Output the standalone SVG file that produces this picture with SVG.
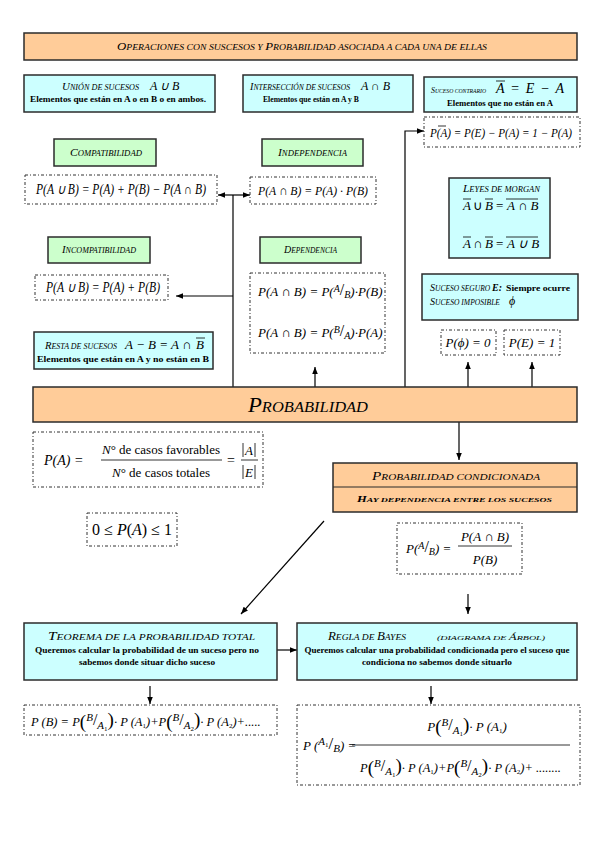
<svg xmlns="http://www.w3.org/2000/svg" width="599" height="848" viewBox="0 0 599 848">
<defs>
<marker id="ah" viewBox="0 0 10 10" refX="10" refY="5" markerWidth="6" markerHeight="6" orient="auto-start-reverse"><path d="M0,1 L10,5 L0,9 z" fill="#000"/></marker>
<style>
.peach{fill:#FFCC99;stroke:#2b2b2b;stroke-width:1.5}
.cyan{fill:#CCFFFF;stroke:#2b2b2b;stroke-width:1.5}
.green{fill:#CCFFCC;stroke:#2b2b2b;stroke-width:1.5}
.dash{fill:#fff;stroke:#333;stroke-width:1;stroke-dasharray:3 2 1 2}
.c{stroke:#000;stroke-width:1.2;fill:none}
.ol{stroke:#000;stroke-width:0.8}
text{font-family:"Liberation Serif",serif;fill:#000}
.cp{font-style:italic}
.el{font-weight:bold}
.m{font-style:italic}
.n{font-style:normal}
</style>
</defs>
<rect width="599" height="848" fill="#fff"/>

<g id="connectors">
<line class="c" x1="233" y1="387" x2="233" y2="195"/>
<line class="c" x1="233" y1="195" x2="218" y2="195" marker-end="url(#ah)"/>
<line class="c" x1="233" y1="195" x2="250" y2="195" marker-end="url(#ah)"/>
<line class="c" x1="233" y1="296" x2="176" y2="296" marker-end="url(#ah)"/>
<line class="c" x1="315" y1="387" x2="315" y2="367" marker-end="url(#ah)"/>
<polyline class="c" points="405,387 405,131 424,131" marker-end="url(#ah)"/>
<line class="c" x1="468" y1="387" x2="468" y2="362" marker-end="url(#ah)"/>
<line class="c" x1="532" y1="387" x2="532" y2="362" marker-end="url(#ah)"/>
<line class="c" x1="459" y1="422" x2="459" y2="460" marker-end="url(#ah)"/>
<line class="c" x1="324" y1="521" x2="241" y2="614" marker-end="url(#ah)"/>
<line class="c" x1="468" y1="594" x2="468" y2="614" marker-end="url(#ah)"/>
<line class="c" x1="277" y1="650" x2="297" y2="650" marker-end="url(#ah)"/>
<line class="c" x1="150" y1="686" x2="150" y2="704" marker-end="url(#ah)"/>
<line class="c" x1="431" y1="686" x2="431" y2="704" marker-end="url(#ah)"/>
</g>

<g id="banner">
<rect class="peach" x="24" y="33" width="553" height="27"/>
<text class="cp" x="117" y="50" font-size="8" textLength="370" lengthAdjust="spacingAndGlyphs"><tspan font-size="10.5">O</tspan>PERACIONES CON SUSCESOS Y <tspan font-size="10.5">P</tspan>ROBABILIDAD ASOCIADA A CADA UNA DE ELLAS</text>
</g>

<g id="union">
<rect class="cyan" x="24" y="75" width="191" height="37"/>
<text class="cp" x="62" y="90" font-size="7.5" textLength="77" lengthAdjust="spacingAndGlyphs"><tspan font-size="10">U</tspan>NIÓN DE SUCESOS</text>
<text x="150" y="90" font-style="italic" font-size="12">A ∪ B</text>
<text class="el" x="118" y="102" font-size="8" text-anchor="middle" textLength="176" lengthAdjust="spacingAndGlyphs">Elementos que están en A o en B o en ambos.</text>
</g>

<g id="interseccion">
<rect class="cyan" x="243" y="75" width="170" height="37"/>
<text class="cp" x="250" y="90" font-size="7.5" textLength="100" lengthAdjust="spacingAndGlyphs"><tspan font-size="10">I</tspan>NTERSECCIÓN DE SUCESOS</text>
<text x="361" y="90" font-style="italic" font-size="12">A ∩ B</text>
<text class="el" x="311" y="102" font-size="8" text-anchor="middle" textLength="96" lengthAdjust="spacingAndGlyphs">Elementos que están en A y B</text>
</g>

<g id="contrario">
<rect class="cyan" x="424" y="77" width="153" height="35"/>
<text class="cp" x="431" y="93" font-size="6.5" textLength="55" lengthAdjust="spacingAndGlyphs"><tspan font-size="9">S</tspan>UCESO CONTRARIO</text>
<text x="496" y="93" font-style="italic" font-size="14" textLength="68" lengthAdjust="spacing">A = E − A</text>
<line class="ol" x1="496" y1="81" x2="505" y2="81"/>
<text class="el" x="500" y="106" font-size="8" text-anchor="middle" textLength="106" lengthAdjust="spacingAndGlyphs">Elementos que no están en A</text>
</g>

<g id="p-contrario">
<rect class="dash" x="424" y="117" width="156" height="30"/>
<text class="m" x="430" y="137" font-size="12" textLength="142" lengthAdjust="spacingAndGlyphs">P(A) = P(E) − P(A) = 1 − P(A)</text>
<line class="ol" x1="438" y1="126" x2="446" y2="126"/>
</g>

<g id="compatibilidad">
<rect class="green" x="54" y="139" width="102" height="27"/>
<text class="cp" x="70" y="156" font-size="7.5" textLength="72" lengthAdjust="spacingAndGlyphs"><tspan font-size="10">C</tspan>OMPATIBILIDAD</text>
</g>

<g id="independencia">
<rect class="green" x="262" y="139" width="101" height="27"/>
<text class="cp" x="278" y="156" font-size="7.5" textLength="69" lengthAdjust="spacingAndGlyphs"><tspan font-size="10">I</tspan>NDEPENDENCIA</text>
</g>

<g id="f-compat">
<rect class="dash" x="25" y="175" width="192" height="29"/>
<text class="m" x="36" y="194" font-size="14" textLength="170" lengthAdjust="spacingAndGlyphs">P(A ∪ B) = P(A) + P(B) − P(A ∩ B)</text>
</g>

<g id="f-indep">
<rect class="dash" x="250" y="177" width="126" height="27"/>
<text class="m" x="258" y="195" font-size="13" textLength="110" lengthAdjust="spacingAndGlyphs">P(A ∩ B) = P(A) · P(B)</text>
</g>

<g id="incompatibilidad">
<rect class="green" x="48" y="237" width="102" height="26"/>
<text class="cp" x="62" y="253" font-size="7.5" textLength="74" lengthAdjust="spacingAndGlyphs"><tspan font-size="10">I</tspan>NCOMPATIBILIDAD</text>
</g>

<g id="dependencia">
<rect class="green" x="260" y="237" width="101" height="26"/>
<text class="cp" x="284" y="253" font-size="7.5" textLength="53" lengthAdjust="spacingAndGlyphs"><tspan font-size="10">D</tspan>EPENDENCIA</text>
</g>

<g id="f-incompat">
<rect class="dash" x="35" y="275" width="133" height="25"/>
<text class="m" x="46" y="292" font-size="14" textLength="114" lengthAdjust="spacingAndGlyphs">P(A ∪ B) = P(A) + P(B)</text>
</g>

<g id="f-dep">
<rect class="dash" x="250" y="273" width="135" height="80"/>
<text class="m" x="258" y="296" font-size="13">P(A ∩ B) = P(<tspan font-size="10" dy="-4">A</tspan><tspan class="n" font-size="16" dy="3">/</tspan><tspan font-size="10" dy="3">B</tspan><tspan dy="-2">)·P(B)</tspan></text>
<text class="m" x="258" y="337" font-size="13">P(A ∩ B) = P(<tspan font-size="10" dy="-4">B</tspan><tspan class="n" font-size="16" dy="3">/</tspan><tspan font-size="10" dy="3">A</tspan><tspan dy="-2">)·P(A)</tspan></text>
</g>

<g id="resta">
<rect class="cyan" x="34" y="332" width="179" height="37"/>
<text class="cp" x="45" y="349" font-size="7.5" textLength="72" lengthAdjust="spacingAndGlyphs"><tspan font-size="10">R</tspan>ESTA DE SUCESOS</text>
<text x="125" y="349" font-style="italic" font-size="13">A − B = A ∩</text>
<text x="196" y="349" font-style="italic" font-size="13">B</text>
<line class="ol" x1="196" y1="338" x2="205" y2="338"/>
<text class="el" x="123" y="362" font-size="8" text-anchor="middle" textLength="172" lengthAdjust="spacingAndGlyphs">Elementos que están en A y no están en B</text>
</g>

<g id="morgan">
<rect class="cyan" x="449" y="178" width="101" height="80"/>
<text class="cp" x="463" y="192" font-size="7.5" textLength="77" lengthAdjust="spacingAndGlyphs"><tspan font-size="10">L</tspan>EYES DE MORGAN</text>
<text x="463" y="210" font-style="italic" font-size="13">A</text>
<text x="473" y="210" font-size="13">∪</text>
<text x="485" y="210" font-style="italic" font-size="13">B</text>
<text x="496" y="210" font-size="13">=</text>
<text x="507" y="210" font-style="italic" font-size="13">A ∩ B</text>
<line class="ol" x1="463" y1="199" x2="471" y2="199"/>
<line class="ol" x1="485" y1="199" x2="493" y2="199"/>
<line class="ol" x1="506" y1="199" x2="538" y2="199"/>
<text x="463" y="248" font-style="italic" font-size="13">A</text>
<text x="473" y="248" font-size="13">∩</text>
<text x="485" y="248" font-style="italic" font-size="13">B</text>
<text x="496" y="248" font-size="13">=</text>
<text x="507" y="248" font-style="italic" font-size="13">A ∪ B</text>
<line class="ol" x1="463" y1="237" x2="471" y2="237"/>
<line class="ol" x1="485" y1="237" x2="493" y2="237"/>
<line class="ol" x1="506" y1="237" x2="538" y2="237"/>
</g>

<g id="seguro">
<rect class="cyan" x="422" y="274" width="156" height="46"/>
<text class="cp" x="430" y="291" font-size="7.5" textLength="72" lengthAdjust="spacingAndGlyphs"><tspan font-size="10">S</tspan>UCESO SEGURO <tspan font-size="10" font-weight="bold">E:</tspan></text>
<text x="506" y="291" font-weight="bold" font-size="8" textLength="64" lengthAdjust="spacingAndGlyphs">Siempre ocurre</text>
<text class="cp" x="430" y="305" font-size="7.5" textLength="70" lengthAdjust="spacingAndGlyphs"><tspan font-size="10">S</tspan>UCESO IMPOSIBLE</text>
<text x="509" y="305" font-style="italic" font-size="12">ϕ</text>
</g>

<g id="p-vacio">
<rect class="dash" x="441" y="330" width="55" height="25"/>
<text class="m" x="468" y="347" font-size="13" text-anchor="middle">P(ϕ) = 0</text>
</g>

<g id="p-seguro">
<rect class="dash" x="504" y="330" width="56" height="25"/>
<text class="m" x="532" y="347" font-size="13" text-anchor="middle">P(E) = 1</text>
</g>

<g id="probabilidad">
<rect class="peach" x="33" y="387" width="544" height="35"/>
<text class="cp" x="248" y="412" font-size="14.5" textLength="120" lengthAdjust="spacingAndGlyphs"><tspan font-size="20">P</tspan>ROBABILIDAD</text>
</g>

<g id="laplace">
<rect class="dash" x="33" y="432" width="230" height="55"/>
<text class="m" x="44" y="465" font-size="14">P(A) =</text>
<text x="161" y="454" font-size="13" text-anchor="middle" textLength="118" lengthAdjust="spacing"><tspan font-style="italic">N</tspan>° de casos favorables</text>
<line class="ol" x1="101" y1="460" x2="222" y2="460"/>
<text x="161" y="477" font-size="13" text-anchor="middle" textLength="98" lengthAdjust="spacing"><tspan font-style="italic">N</tspan>° de casos totales</text>
<text x="227" y="465" font-size="14">=</text>
<line class="ol" x1="241" y1="460" x2="258" y2="460"/>
<text class="m" x="245" y="455" font-size="13">A</text>
<line class="ol" x1="243" y1="443" x2="243" y2="457"/>
<line class="ol" x1="255" y1="443" x2="255" y2="457"/>
<text class="m" x="245" y="477" font-size="13">E</text>
<line class="ol" x1="243" y1="465" x2="243" y2="479"/>
<line class="ol" x1="255" y1="465" x2="255" y2="479"/>
</g>

<g id="condicionada">
<rect class="peach" x="333" y="463" width="244" height="49"/>
<line stroke="#2b2b2b" stroke-width="1.2" x1="333" y1="487" x2="577" y2="487"/>
<text class="cp" x="372" y="480" font-size="8.5" textLength="168" lengthAdjust="spacingAndGlyphs"><tspan font-size="11.5">P</tspan>ROBABILIDAD CONDICIONADA</text>
<text class="cp" x="357" y="502" font-size="7" font-weight="bold" textLength="195" lengthAdjust="spacingAndGlyphs"><tspan font-size="9">H</tspan>AY DEPENDENCIA ENTRE LOS SUCESOS</text>
</g>

<g id="rango">
<rect class="dash" x="87" y="513" width="90" height="33"/>
<text x="132" y="535" font-size="16" text-anchor="middle">0 ≤ <tspan font-style="italic">P</tspan>(<tspan font-style="italic">A</tspan>) ≤ 1</text>
</g>

<g id="f-cond">
<rect class="dash" x="397" y="523" width="125" height="51"/>
<text class="m" x="406" y="553" font-size="13">P(<tspan font-size="10" dy="-4">A</tspan><tspan class="n" font-size="16" dy="3">/</tspan><tspan font-size="10" dy="3">B</tspan><tspan dy="-2">) =</tspan></text>
<text class="m" x="485" y="541" font-size="13" text-anchor="middle">P(A ∩ B)</text>
<line class="ol" x1="458" y1="546" x2="512" y2="546"/>
<text class="m" x="485" y="564" font-size="13" text-anchor="middle">P(B)</text>
</g>

<g id="teorema">
<rect class="cyan" x="24" y="623" width="253" height="57"/>
<text class="cp" x="48" y="640" font-size="8.5" textLength="207" lengthAdjust="spacingAndGlyphs"><tspan font-size="11.5">T</tspan>EOREMA DE LA PROBABILIDAD TOTAL</text>
<text class="el" x="147" y="653" font-size="7.5" text-anchor="middle" textLength="224" lengthAdjust="spacingAndGlyphs">Queremos calcular la probabilidad de un suceso pero no</text>
<text class="el" x="147" y="665" font-size="7.5" text-anchor="middle" textLength="136" lengthAdjust="spacingAndGlyphs">sabemos donde situar dicho suceso</text>
</g>

<g id="bayes">
<rect class="cyan" x="297" y="623" width="280" height="57"/>
<text class="cp" x="328" y="640" font-size="8.5" textLength="78" lengthAdjust="spacingAndGlyphs"><tspan font-size="11.5">R</tspan>EGLA DE <tspan font-size="11.5">B</tspan>AYES</text>
<text class="cp" x="437" y="640" font-size="7" textLength="108" lengthAdjust="spacingAndGlyphs">(DIAGRAMA DE <tspan font-size="9">Á</tspan>RBOL)</text>
<text class="el" x="437" y="653" font-size="7.5" text-anchor="middle" textLength="265" lengthAdjust="spacingAndGlyphs">Queremos calcular una probabilidad condicionada pero el suceso que</text>
<text class="el" x="437" y="665" font-size="7.5" text-anchor="middle" textLength="150" lengthAdjust="spacingAndGlyphs">condiciona no sabemos donde situarlo</text>
</g>

<g id="f-total">
<rect class="dash" x="24" y="705" width="253" height="30"/>
<text class="m" x="31" y="726" font-size="12.5">P (B) = P<tspan class="n" font-size="19" dy="2">(</tspan><tspan font-size="11" dy="-7">B</tspan><tspan class="n" font-size="16" dy="4">/</tspan><tspan font-size="11" dy="4">A</tspan><tspan class="n" font-size="7" dy="2">1</tspan><tspan class="n" font-size="19" dy="-5">)</tspan>· P (A<tspan class="n" font-size="7" dy="2">1</tspan><tspan dy="-2">)+P</tspan><tspan class="n" font-size="19" dy="2">(</tspan><tspan font-size="11" dy="-7">B</tspan><tspan class="n" font-size="16" dy="4">/</tspan><tspan font-size="11" dy="4">A</tspan><tspan class="n" font-size="7" dy="2">2</tspan><tspan class="n" font-size="19" dy="-5">)</tspan>· P (A<tspan class="n" font-size="7" dy="2">2</tspan><tspan dy="-2">)+.....</tspan></text>
</g>

<g id="f-bayes">
<rect class="dash" x="297" y="705" width="283" height="80"/>
<text class="m" x="303" y="750" font-size="13">P (<tspan font-size="11" dy="-5">A</tspan><tspan class="n" font-size="7" dy="2">1</tspan><tspan class="n" font-size="17" dy="2">/</tspan><tspan font-size="11" dy="3">B</tspan><tspan dy="-2">) =</tspan></text>
<text class="m" x="467" y="731" font-size="13" text-anchor="middle">P<tspan class="n" font-size="19" dy="2">(</tspan><tspan font-size="11" dy="-7">B</tspan><tspan class="n" font-size="16" dy="4">/</tspan><tspan font-size="11" dy="4">A</tspan><tspan class="n" font-size="7" dy="2">1</tspan><tspan class="n" font-size="19" dy="-5">)</tspan>· P (A<tspan class="n" font-size="7" dy="2">1</tspan><tspan dy="-2">)</tspan></text>
<line class="ol" x1="352" y1="745" x2="570" y2="745"/>
<text class="m" x="360" y="772" font-size="12.5">P<tspan class="n" font-size="19" dy="2">(</tspan><tspan font-size="11" dy="-7">B</tspan><tspan class="n" font-size="16" dy="4">/</tspan><tspan font-size="11" dy="4">A</tspan><tspan class="n" font-size="7" dy="2">1</tspan><tspan class="n" font-size="19" dy="-5">)</tspan>· P (A<tspan class="n" font-size="7" dy="2">1</tspan><tspan dy="-2">)+P</tspan><tspan class="n" font-size="19" dy="2">(</tspan><tspan font-size="11" dy="-7">B</tspan><tspan class="n" font-size="16" dy="4">/</tspan><tspan font-size="11" dy="4">A</tspan><tspan class="n" font-size="7" dy="2">2</tspan><tspan class="n" font-size="19" dy="-5">)</tspan>· P (A<tspan class="n" font-size="7" dy="2">2</tspan><tspan dy="-2">)+ ........</tspan></text>
</g>
</svg>
